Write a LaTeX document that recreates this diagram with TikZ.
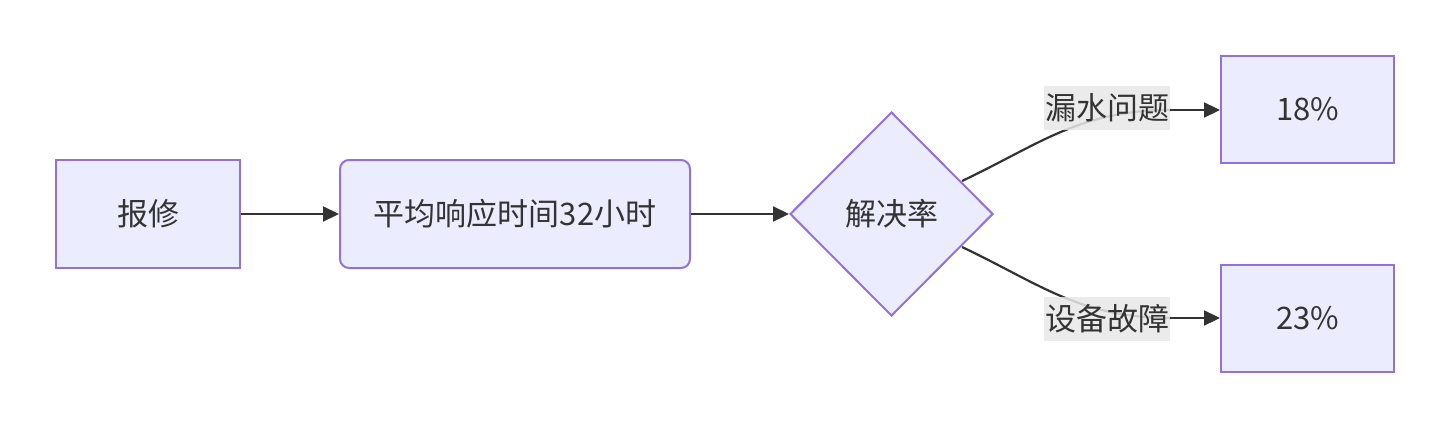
\documentclass[tikz,border=0pt]{standalone}
\usepackage{fontspec}
\setmainfont{Noto Sans CJK SC}
\usetikzlibrary{arrows.meta,shapes.geometric}
\definecolor{nfill}{HTML}{ECECFF}
\definecolor{nstroke}{HTML}{9370DB}
\definecolor{txt}{HTML}{333333}
\definecolor{edge}{HTML}{333333}
\definecolor{lblbg}{HTML}{E8E8E8}
\begin{document}
\begin{tikzpicture}[x=1pt,y=-1pt,
  every node/.style={font=\fontsize{31}{36}\selectfont, text=txt},
  proc/.style={draw=nstroke, fill=nfill, line width=2pt, rectangle, minimum width=184pt, minimum height=108pt, inner sep=0pt},
  rproc/.style={proc, rounded corners=9pt, minimum width=350pt},
  res/.style={proc, minimum width=173pt, minimum height=107pt},
  decide/.style={draw=nstroke, fill=nfill, line width=2pt, diamond, minimum width=203pt, minimum height=204pt, inner sep=0pt},
  elabel/.style={fill=lblbg, fill opacity=0.85, text opacity=1, inner sep=1pt, minimum height=44pt},
  link/.style={draw=edge, line width=2.2pt, -{Triangle[length=16pt,width=15pt]}},
  plain/.style={draw=edge, line width=2.2pt}
]
\useasboundingbox (0,0) rectangle (1450,428);
\node[proc] (a) at (148,214) {报修};
\node[rproc] (b) at (515,214) {平均响应时间32小时};
\node[decide] (c) at (891.5,214) {解决率};
\node[res] (d) at (1307.5,109.5) {18\%};
\node[res] (e) at (1307.5,318) {23\%};
\draw[link] (a.east) -- (b.west);
\draw[link] (b.east) -- (c.west);
\coordinate (u1) at (962,181);
\coordinate (u2) at (1171,110);
\coordinate (l1) at (962,247);
\coordinate (l2) at (1171,318);
\draw[plain] (u1) .. controls (1040,144) and (1080,110) .. (u2);
\draw[plain] (l1) .. controls (1040,284) and (1080,318) .. (l2);
\node[elabel] (lu) at (1107,108) {漏水问题};
\node[elabel] (ll) at (1107,319) {设备故障};
\draw[link] (lu.east |- u2) -- (d.west |- u2);
\draw[link] (ll.east |- l2) -- (e.west |- l2);
\end{tikzpicture}
\end{document}
